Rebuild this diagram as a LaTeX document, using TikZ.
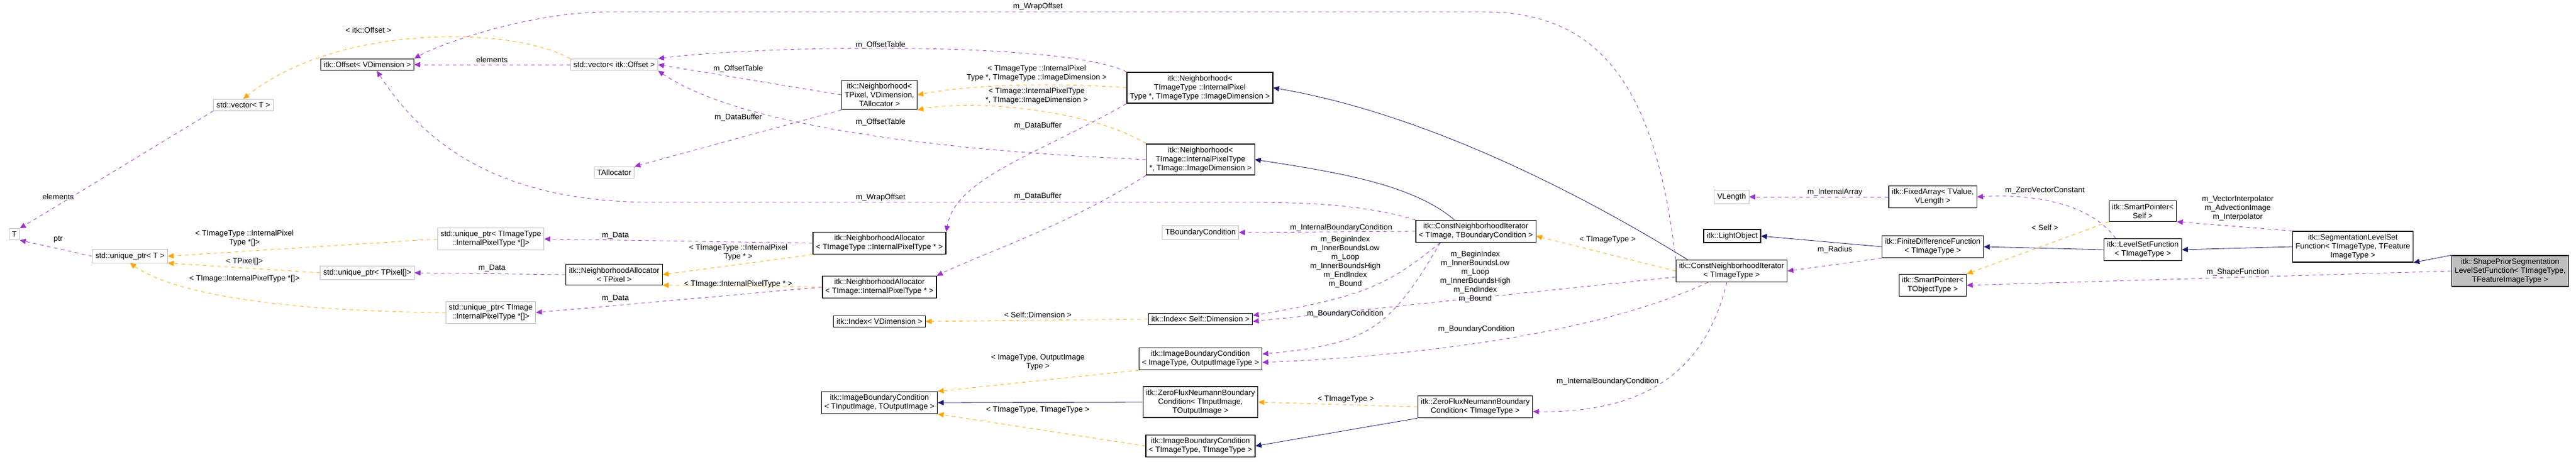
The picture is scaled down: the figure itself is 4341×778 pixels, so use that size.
\documentclass[tikz,border=0pt]{standalone}
\usepackage{fontspec}
\setmainfont{Liberation Sans}
\usetikzlibrary{arrows.meta}
\definecolor{usecol}{HTML}{9A32CD}
\definecolor{tplcol}{HTML}{FFA500}
\definecolor{inhcol}{HTML}{191970}
\definecolor{boxgray}{HTML}{BFBFBF}
\tikzset{class/.style={draw=black,line width=0.6pt,fill=white,inner sep=2.5pt,align=center,
                       font=\fontsize{6.5}{7.5}\selectfont}}
\tikzset{ext/.style={class,draw=boxgray,line width=0.5pt}}
\tikzset{lbl/.style={inner sep=0pt,align=center,font=\fontsize{6.5}{7.5}\selectfont}}
\tikzset{usage/.style={draw=usecol,dashed,-{Triangle[length=5pt,width=4.5pt]}}}
\tikzset{templ/.style={draw=tplcol,dashed,-{Triangle[length=5pt,width=4.5pt]}}}
\tikzset{inherit/.style={draw=inhcol,-{Triangle[length=5pt,width=4.5pt]}}}
\begin{document}
\begin{tikzpicture}[x=0.5pt,y=-0.5pt]
      \useasboundingbox (0,0) rectangle (4341,778);

      % classes
      \node [ext] (nT) at (24,395) {T};
      \node [ext] (nUPT) at (219,432) {std::unique\_ptr< T >};
      \node [ext] (nVecT) at (410,177) {std::vector< T >};
      \node [class] (nOffset) at (619,109) {itk::Offset< VDimension >};
      \node [ext] (nVecOff) at (1035,109) {std::vector< itk::Offset >};
      \node [ext] (nTAlloc) at (1035,291) {TAllocator};
      \node [ext] (nUPTIT) at (827,403) {std::unique\_ptr< TImageType\\::InternalPixelType *[]>};
      \node [ext] (nUPPix) at (619,460) {std::unique\_ptr< TPixel[]>};
      \node [class] (nNAPix) at (1035,463) {itk::NeighborhoodAllocator\\< TPixel >};
      \node [ext] (nUPTI) at (827,527) {std::unique\_ptr< TImage\\::InternalPixelType *[]>};
      \node [class] (nNbPix) at (1482,160) {itk::Neighborhood<\\TPixel, VDimension,\\TAllocator >};
      \node [class] (nNbIT) at (2022,148) {itk::Neighborhood<\\TImageType ::InternalPixel\\Type *, TImageType ::ImageDimension >};
      \node [class] (nNbI) at (2023,269) {itk::Neighborhood<\\TImage::InternalPixelType\\*, TImage::ImageDimension >};
      \node [class] (nNAIT) at (1482,410) {itk::NeighborhoodAllocator\\< TImageType ::InternalPixelType * >};
      \node [class] (nNAI) at (1482,484) {itk::NeighborhoodAllocator\\< TImage::InternalPixelType * >};
      \node [ext] (nTBC) at (2023,392) {TBoundaryCondition};
      \node [class] (nIdxV) at (1482,542) {itk::Index< VDimension >};
      \node [class] (nIdxS) at (2023,538) {itk::Index< Self::Dimension >};
      \node [class] (nIBCOut) at (2023,605) {itk::ImageBoundaryCondition\\< ImageType, OutputImageType >};
      \node [class] (nIBCIn) at (1482,679) {itk::ImageBoundaryCondition\\< TInputImage, TOutputImage >};
      \node [class] (nZFIn) at (2023,678) {itk::ZeroFluxNeumannBoundary\\Condition< TInputImage,\\TOutputImage >};
      \node [class] (nIBCT) at (2023,752) {itk::ImageBoundaryCondition\\< TImageType, TImageType >};
      \node [class] (nCNIB) at (2487,390) {itk::ConstNeighborhoodIterator\\< TImage, TBoundaryCondition >};
      \node [class] (nCNIT) at (2918,457) {itk::ConstNeighborhoodIterator\\< TImageType >};
      \node [class] (nZFT) at (2486,686) {itk::ZeroFluxNeumannBoundary\\Condition< TImageType >};
      \node [ext] (nVLen) at (2918,332) {VLength};
      \node [class] (nLight) at (2919,398) {itk::LightObject};
      \node [class] (nFixed) at (3257,332) {itk::FixedArray< TValue,\\VLength >};
      \node [class] (nFDF) at (3257,416) {itk::FiniteDifferenceFunction\\< TImageType >};
      \node [class] (nSPT) at (3257,481) {itk::SmartPointer<\\TObjectType >};
      \node [class] (nSPS) at (3611,356) {itk::SmartPointer<\\Self >};
      \node [class] (nLSF) at (3611,421) {itk::LevelSetFunction\\< TImageType >};
      \node [class] (nSLSF) at (3965,416) {itk::SegmentationLevelSet\\Function< TImageType, TFeature\\ImageType >};
      \node [class,fill=boxgray] (nShape) at (4230,457) {itk::ShapePriorSegmentation\\LevelSetFunction< TImageType,\\TFeatureImageType >};

      % left part
      \path [usage] (nVecT.south west) -- (nT.north east);
      \path [usage] (nUPT.west) -- (nT.south east);
      \path [templ] (nVecOff.north west) .. controls (850,40) and (560,45) .. (nVecT.north);
      \path [usage] (nVecOff.west) -- (nOffset.east);
      \path [templ] (nUPTIT.west) -- (nUPT.east);
      \path [templ] (nUPPix.west) -- (nUPT.south east);
      \path [templ] (nUPTI.west) .. controls (500,525) and (300,500) .. (nUPT.south);
      \path [usage] (nNAPix.west) -- (nUPPix.east);
      \path [usage] (nNAIT.west) -- (nUPTIT.east);
      \path [usage] (nNAI.west) -- (nUPTI.east);
      \path [templ] (nNAIT.south west) -- (nNAPix.east);
      \path [templ] (nNAI.west) -- (nNAPix.south east);

      % neighborhoods
      \path [usage] (nNbPix.west) -- (nVecOff.east);
      \path [usage] (nNbPix.south west) -- (nTAlloc.north east);
      \path [usage] (nNbIT.north west) .. controls (1800,70) and (1300,75) .. (nVecOff.north east);
      \path [usage] (nNbI.west) .. controls (1600,255) and (1250,215) .. (nVecOff.south east);
      \path [templ] (nNbIT.west) .. controls (1800,140) and (1650,140) .. (nNbPix.east);
      \path [templ] (nNbI.north west) .. controls (1850,190) and (1650,165) .. (nNbPix.south east);
      \path [usage] (nNbIT.south west) .. controls (1750,260) and (1610,300) .. (nNAIT.north east);
      \path [usage] (nNbI.south west) .. controls (1800,380) and (1650,430) .. (nNAI.north east);

      % iterators
      \path [usage] (nCNIT.north west) .. controls (2790,150) and (2700,20) .. (2500,20)
      -- (1024,20) .. controls (900,20) and (750,70) .. (nOffset.north east);
      \path [usage] (nCNIB.north west) .. controls (2300,345) and (2200,341) .. (2100,341)
      -- (1100,341) .. controls (850,341) and (720,250) .. ([xshift=8pt]nOffset.south);
      \path [inherit] ([xshift=10pt]nCNIT.north west) .. controls (2750,380) and (2450,200) .. (nNbIT.east);
      \path [inherit] ([xshift=-18pt]nCNIB.north) .. controls (2380,310) and (2250,290) .. (nNbI.east);
      \path [usage] (nCNIB.west) -- (nTBC.east);
      \path [usage] ([xshift=-30pt]nCNIB.south) .. controls (2340,480) and (2300,500) .. ([yshift=3pt]nIdxS.east);
      \path [usage] ([xshift=-30pt]nCNIB.south) .. controls (2340,560) and (2300,580) .. ([yshift=4pt]nIBCOut.east);
      \path [usage] ([yshift=-5pt]nCNIT.west) -- ([yshift=-2pt]nIdxS.east);
      \path [usage] ([xshift=-20pt]nCNIT.south) .. controls (2700,560) and (2400,600) .. ([yshift=-3pt]nIBCOut.east);
      \path [usage] ([xshift=-4pt]nCNIT.south) .. controls (2880,600) and (2800,697) .. ([yshift=-4pt]nZFT.east);
      \path [templ] (nCNIT.west) -- ([yshift=-4pt]nCNIB.east);

      % boundary conditions
      \path [templ] (nIdxS.west) -- (nIdxV.east);
      \path [templ] (nIBCOut.south west) -- (nIBCIn.north east);
      \path [inherit] (nZFIn.west) -- (nIBCIn.east);
      \path [templ] (nIBCT.west) -- (nIBCIn.south east);
      \path [templ] (nZFT.west) -- (nZFIn.east);
      \path [inherit] (nZFT.south west) -- (nIBCT.east);

      % functions
      \path [usage] (nFixed.west) -- (nVLen.east);
      \path [inherit] (nFDF.west) -- (nLight.east);
      \path [usage] (nFDF.south west) -- (nCNIT.east);
      \path [inherit] (nLSF.west) -- (nFDF.east);
      \path [usage] ([xshift=10pt]nLSF.north west) .. controls (3520,340) and (3420,327) .. (nFixed.east);
      \path [templ] (nSPS.south west) -- (nSPT.north east);
      \path [usage] (nSLSF.north west) -- (nSPS.south east);
      \path [inherit] (nSLSF.west) -- (nLSF.east);
      \path [inherit] (nShape.north west) -- (nSLSF.south east);
      \path [usage] (nShape.west) -- (nSPT.east);

      % labels
      \node [lbl] (lA) at (98,332) {elements};
      \node [lbl] (lB) at (98,404) {ptr};
      \node [lbl] (lC) at (621,51) {< itk::Offset >};
      \node [lbl] (lD) at (829,101) {elements};
      \node [lbl] (lE) at (412,402) {< TImageType ::InternalPixel\\Type *[]>};
      \node [lbl] (lF) at (412,441) {< TPixel[]>};
      \node [lbl] (lG) at (412,470) {< TImage::InternalPixelType *[]>};
      \node [lbl] (lH) at (829,452) {m\_Data};
      \node [lbl] (lI) at (1037,397) {m\_Data};
      \node [lbl] (lJ) at (1037,503) {m\_Data};
      \node [lbl] (lK) at (1244,426) {< TImageType ::InternalPixel\\Type * >};
      \node [lbl] (lL) at (1244,479) {< TImage::InternalPixelType * >};
      \node [lbl] (lM) at (1244,116) {m\_OffsetTable};
      \node [lbl] (lN) at (1244,198) {m\_DataBuffer};
      \node [lbl] (lO) at (1484,76) {m\_OffsetTable};
      \node [lbl] (lP) at (1484,206) {m\_OffsetTable};
      \node [lbl] (lQ) at (1747,124) {< TImageType ::InternalPixel\\Type *, TImageType ::ImageDimension >};
      \node [lbl] (lR) at (1747,162) {< TImage::InternalPixelType\\*, TImage::ImageDimension >};
      \node [lbl] (lS) at (1749,212) {m\_DataBuffer};
      \node [lbl] (lT) at (1749,331) {m\_DataBuffer};
      \node [lbl] (lU) at (1749,11) {m\_WrapOffset};
      \node [lbl] (lV) at (1484,333) {m\_WrapOffset};
      \node [lbl] (lW) at (2260,384) {m\_InternalBoundaryCondition};
      \node [lbl] (lX) at (2267,442) {m\_BeginIndex\\m\_InnerBoundsLow\\m\_Loop\\m\_InnerBoundsHigh\\m\_EndIndex\\m\_Bound};
      \node [lbl] (lY) at (2486,467) {m\_BeginIndex\\m\_InnerBoundsLow\\m\_Loop\\m\_InnerBoundsHigh\\m\_EndIndex\\m\_Bound};
      \node [lbl] (lZ) at (2267,529) {m\_BoundaryCondition};
      \node [lbl] (lAA) at (2488,555) {m\_BoundaryCondition};
      \node [lbl] (lAB) at (1749,531) {< Self::Dimension >};
      \node [lbl] (lAC) at (1749,611) {< ImageType, OutputImage\\Type >};
      \node [lbl] (lAD) at (1749,691) {< TImageType, TImageType >};
      \node [lbl] (lAE) at (2268,673) {< TImageType >};
      \node [lbl] (lAF) at (2709,643) {m\_InternalBoundaryCondition};
      \node [lbl] (lAG) at (2709,404) {< TImageType >};
      \node [lbl] (lAH) at (3092,324) {m\_InternalArray};
      \node [lbl] (lAI) at (3092,421) {m\_Radius};
      \node [lbl] (lAJ) at (3446,321) {m\_ZeroVectorConstant};
      \node [lbl] (lAK) at (3446,384) {< Self >};
      \node [lbl] (lAL) at (3771,351) {m\_VectorInterpolator\\m\_AdvectionImage\\m\_Interpolator};
      \node [lbl] (lAM) at (3771,459) {m\_ShapeFunction};

    \end{tikzpicture}
\end{document}
